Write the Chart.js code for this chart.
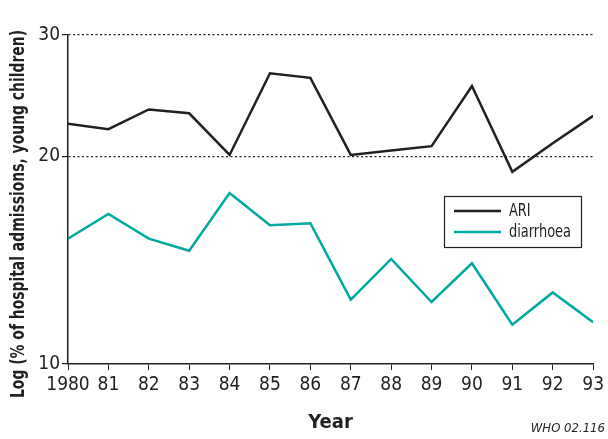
<!DOCTYPE html>
<html>
<head>
<meta charset="utf-8">
<script src="https://cdn.jsdelivr.net/npm/chart.js@4"></script>
<style>
  html, body { margin: 0; padding: 0; background: #fff; }
  #wrap { width: 608px; height: 439px; }
</style>
</head>
<body>
<div id="wrap"><canvas id="admChart" width="608" height="439"></canvas></div>
<script>
const years = [1980, 1981, 1982, 1983, 1984, 1985, 1986, 1987, 1988, 1989, 1990, 1991, 1992, 1993];
const ariValues = [22.3, 21.9, 23.4, 23.1, 20.1, 26.4, 26.0, 20.1, 20.4, 20.7, 25.3, 19.0, 20.9, 22.9];
const diarrhoeaValues = [15.2, 16.5, 15.2, 14.6, 17.7, 15.9, 16.0, 12.4, 14.2, 12.3, 14.0, 11.4, 12.7, 11.5];
const yTicks = [10, 20, 30];
const seriesNames = ['ARI', 'diarrhoea'];

const FONT = "'DejaVu Sans Condensed', 'Liberation Sans Narrow', 'Open Sans', sans-serif";
const INK = '#231f20';
const TEAL = '#00a99d';

// squeeze text horizontally so it fits a given width (the original face is condensed)
function squeezed(ctx, text, x, y, maxW) {
  const w = ctx.measureText(text).width;
  const k = Math.min(1, maxW / w);
  ctx.save();
  ctx.translate(x, y);
  ctx.scale(k, 1);
  ctx.fillText(text, 0, 0);
  ctx.restore();
}

// legend box, y title and footnote drawn by hand
const extras = {
  id: 'extras',
  afterDraw(chart) {
    const ctx = chart.ctx;
    ctx.save();
    // legend
    ctx.strokeStyle = INK;
    ctx.lineWidth = 1.2;
    ctx.strokeRect(444.5, 196.5, 137, 51);
    const colors = [INK, TEAL];
    const rows = [211, 232];
    ctx.font = '18px ' + FONT;
    ctx.textBaseline = 'middle';
    ctx.textAlign = 'left';
    const k = Math.min(1, 62 / ctx.measureText('diarrhoea').width);
    seriesNames.forEach((name, i) => {
      ctx.strokeStyle = colors[i];
      ctx.lineWidth = 2.5;
      ctx.beginPath();
      ctx.moveTo(454, rows[i]);
      ctx.lineTo(501, rows[i]);
      ctx.stroke();
      ctx.fillStyle = INK;
      squeezed(ctx, name, 509, rows[i], ctx.measureText(name).width * k);
    });
    // y axis title
    ctx.translate(19, 214);
    ctx.rotate(-Math.PI / 2);
    ctx.font = 'bold 19px ' + FONT;
    ctx.textAlign = 'center';
    squeezed(ctx, 'Log (% of hospital admissions, young children)', 0, 0, 368);
    ctx.restore();
    ctx.save();
    ctx.fillStyle = INK;
    ctx.font = 'italic 13px ' + FONT;
    ctx.textAlign = 'right';
    ctx.textBaseline = 'middle';
    ctx.fillText('WHO 02.116', 605, 429);
    ctx.restore();
  }
};

new Chart(document.getElementById('admChart'), {
  type: 'line',
  data: {
    datasets: [
      {
        label: seriesNames[0],
        data: years.map((y, i) => ({ x: y, y: ariValues[i] })),
        borderColor: INK,
        borderWidth: 2.5,
        pointRadius: 0,
        tension: 0,
      },
      {
        label: seriesNames[1],
        data: years.map((y, i) => ({ x: y, y: diarrhoeaValues[i] })),
        borderColor: TEAL,
        borderWidth: 2.5,
        pointRadius: 0,
        tension: 0,
      },
    ],
  },
  options: {
    responsive: false,
    animation: false,
    layout: { padding: { top: 35, right: 13, bottom: 0, left: 0 } },
    plugins: {
      legend: { display: false },
      tooltip: { enabled: false },
    },
    scales: {
      x: {
        type: 'linear',
        min: 1980,
        max: 1993,
        afterBuildTicks: (scale) => { scale.ticks = years.map(v => ({ value: v })); },
        afterFit: (scale) => { scale.height = 75; },
        ticks: {
          color: INK,
          font: { family: FONT, size: 19 },
          padding: 4,
          maxRotation: 0,
          autoSkip: false,
          callback: (v) => v === 1980 ? '1980' : String(v).slice(2),
        },
        grid: {
          drawOnChartArea: false,
          drawTicks: true,
          tickLength: 6,
          color: INK,
        },
        border: { color: INK, width: 1.5 },
        title: {
          display: true,
          text: 'Year',
          color: INK,
          font: { family: FONT, size: 20, weight: 'bold' },
          padding: { top: 8 },
        },
      },
      y: {
        type: 'logarithmic',
        min: 10,
        max: 30,
        afterBuildTicks: (scale) => { scale.ticks = yTicks.map(v => ({ value: v })); },
        afterFit: (scale) => { scale.width = 68; },
        ticks: {
          color: INK,
          font: { family: FONT, size: 19 },
          padding: 2,
          callback: (v) => String(v),
        },
        grid: {
          color: (c) => c.tick && c.tick.value === 10 ? 'rgba(0,0,0,0)' : INK,
          tickColor: INK,
          lineWidth: 1.2,
          drawTicks: true,
          tickLength: 6,
        },
        border: { color: INK, width: 1.5, dash: [2, 2.5] },
      },
    },
  },
  plugins: [extras],
});
</script>
</body>
</html>
